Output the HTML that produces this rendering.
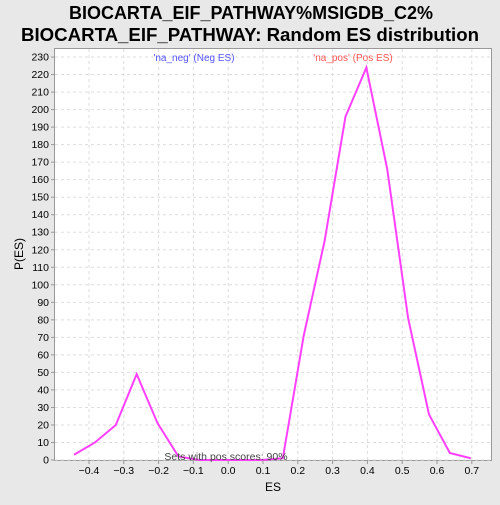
<!DOCTYPE html>
<html><head><meta charset="utf-8"><style>
body{margin:0;background:#e8e8e8;width:500px;height:500px;overflow:hidden;font-family:"Liberation Sans",sans-serif}
</style></head><body>
<svg width="500" height="500" xmlns="http://www.w3.org/2000/svg">
<rect width="500" height="500" fill="#e8e8e8"/>
<text x="69" y="19" textLength="364" lengthAdjust="spacingAndGlyphs" font-size="18" font-weight="bold" fill="#000">BIOCARTA_EIF_PATHWAY%MSIGDB_C2%</text>
<text x="21" y="41" textLength="458" lengthAdjust="spacingAndGlyphs" font-size="18" font-weight="bold" fill="#000">BIOCARTA_EIF_PATHWAY: Random ES distribution</text>
<rect x="54.5" y="48.5" width="437" height="412" fill="#fff" stroke="#999"/>
<g id="grid"></g>
<g id="ticks"></g>
<text x="194" y="61" text-anchor="middle" font-size="10" fill="#5555ff">'na_neg' (Neg ES)</text>
<text x="353" y="61" text-anchor="middle" font-size="10" fill="#ff5555">'na_pos' (Pos ES)</text>
<polyline id="line" fill="none" stroke="#ff40ff" stroke-width="2"/>
<text x="226" y="460" text-anchor="middle" font-size="10.5" fill="#444">Sets with pos scores: 90%</text>
<text x="273" y="491" text-anchor="middle" font-size="12" fill="#000">ES</text>
<text x="23" y="254" text-anchor="middle" font-size="12" fill="#000" transform="rotate(-90 23 254)">P(ES)</text>
</svg>
<script>
const esValues=[-0.443,-0.383,-0.323,-0.263,-0.203,-0.143,-0.083,-0.023,0.037,0.097,0.157,0.217,0.277,0.337,0.397,0.457,0.517,0.577,0.637,0.697];
const counts=[3,10,20,49,21,2,0,0,0,0,1,71,125,196,224,166,81,26,4,1];
const xTicks=[-0.4,-0.3,-0.2,-0.1,0.0,0.1,0.2,0.3,0.4,0.5,0.6,0.7];
const yTicks=[0,10,20,30,40,50,60,70,80,90,100,110,120,130,140,150,160,170,180,190,200,210,220,230];
const xs=v=>228.2+v*348;
const ys=v=>460-v*1.752;
const NS='http://www.w3.org/2000/svg';
const grid=document.getElementById('grid'),ticks=document.getElementById('ticks');
function mk(t,a,p){const e=document.createElementNS(NS,t);for(const k in a)e.setAttribute(k,a[k]);p.appendChild(e);return e;}
xTicks.forEach(t=>{const x=xs(t);
const g=mk('line',{x1:x,x2:x,y1:49,y2:460,stroke:'#ddd','stroke-dasharray':'3,3'},grid);


const tk=mk('line',{x1:x,x2:x,y1:460,y2:464,stroke:'#999'},ticks);


const l=mk('text',{x:x,y:474,'text-anchor':'middle','font-size':'10.5',fill:'#000'},ticks);
l.textContent=(t<0?'\u2212':'')+Math.abs(t).toFixed(1);

});
yTicks.forEach(t=>{const y=ys(t);
const g=mk('line',{x1:55,x2:491,y1:y,y2:y,stroke:'#ddd','stroke-dasharray':'3,3'},grid);


const tk=mk('line',{x1:51,x2:55,y1:y,y2:y,stroke:'#999'},ticks);


const l=mk('text',{x:49,y:y+3.5,'text-anchor':'end','font-size':'10.5',fill:'#000'},ticks);
l.textContent=t;

});
document.getElementById('line').setAttribute('points',esValues.map((v,i)=>xs(v)+','+ys(counts[i])).join(' '));
</script>
</body></html>
